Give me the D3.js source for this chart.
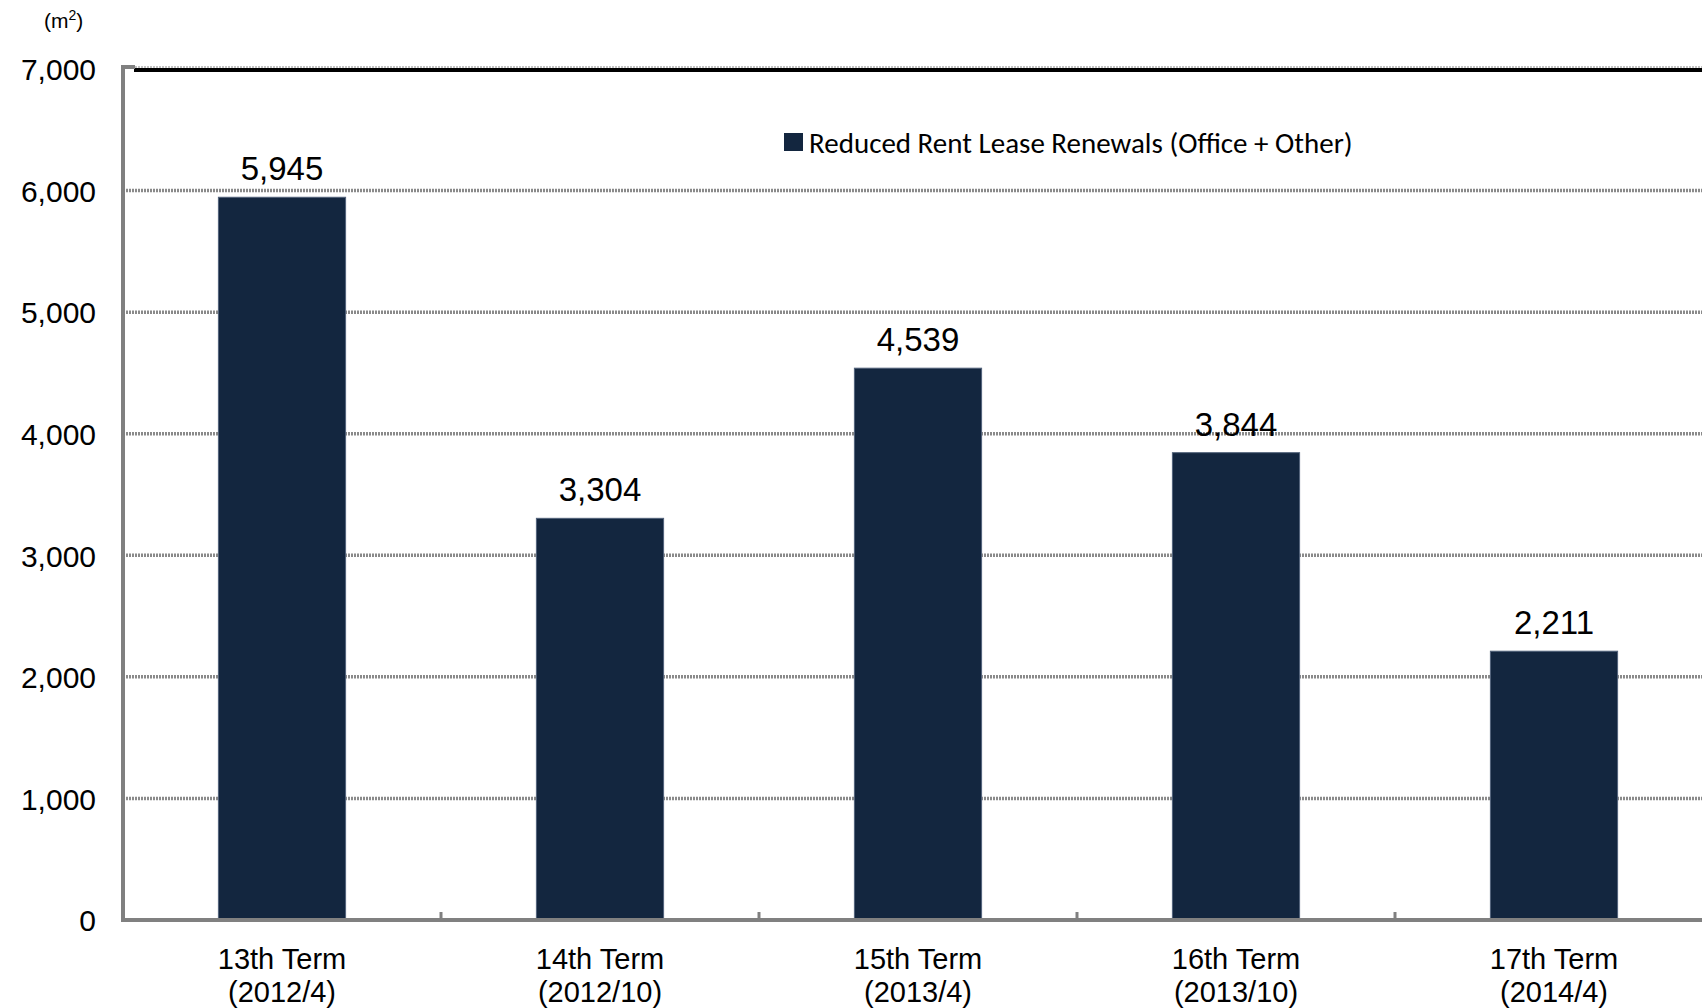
<!DOCTYPE html>
<html>
<head>
<meta charset="utf-8">
<script src="https://cdn.jsdelivr.net/npm/d3@7"></script>
<style>
body { margin: 0; background: #fff; }
text { font-family: "Liberation Sans", Arial, sans-serif; fill: #000; }
</style>
</head>
<body>
<div class="container"></div>
<script>
// chart data
var terms = ["13th Term", "14th Term", "15th Term", "16th Term", "17th Term"];
var periods = ["(2012/4)", "(2012/10)", "(2013/4)", "(2013/10)", "(2014/4)"];
var areas = [5945, 3304, 4539, 3844, 2211];
var yTicks = [0, 1000, 2000, 3000, 4000, 5000, 6000, 7000];
var seriesName = "Reduced Rent Lease Renewals (Office + Other)";

var W = 1702, H = 1008;
var plotLeft = 123, plotTop = 69, plotBottom = 920;

var svg = d3.select(".container").append("svg")
	.attr("width", W)
	.attr("height", H);

var x = d3.scaleBand()
	.domain(terms)
	.range([plotLeft, plotLeft + 318 * 5])
	.paddingInner(0.6)
	.paddingOuter(0.3);

var y = d3.scaleLinear()
	.domain([0, 7000])
	.range([plotBottom, plotTop]);

// gridlines
svg.append("g").selectAll("line")
	.data(yTicks.filter(function(d) { return d > 0; }))
	.enter().append("line")
	.attr("x1", plotLeft).attr("x2", W)
	.attr("y1", function(d) { return d == 7000 ? y(d) - 2 : y(d); })
	.attr("y2", function(d) { return d == 7000 ? y(d) - 2 : y(d); })
	.style("stroke", function(d) { return d == 7000 ? "#b0b0b0" : "#8a8a8a"; })
	.style("stroke-width", function(d) { return d == 7000 ? 1.5 : 3.5; })
	.style("stroke-dasharray", "2,1");

// plot top border
svg.append("line")
	.attr("x1", plotLeft + 11).attr("x2", W)
	.attr("y1", y(7000) + 1).attr("y2", y(7000) + 1)
	.style("stroke", "#000")
	.style("stroke-width", 4);

// bars
svg.append("g").selectAll("rect")
	.data(areas)
	.enter().append("rect")
	.attr("x", function(d, i) { return x(terms[i]); })
	.attr("y", function(d) { return y(d); })
	.attr("width", x.bandwidth())
	.attr("height", function(d) { return y(0) - y(d); })
	.style("fill", "#13263f")
	.style("stroke", "#52627a")
	.style("stroke-width", 1);

// value labels
svg.append("g").selectAll("text")
	.data(areas)
	.enter().append("text")
	.attr("x", function(d, i) { return x(terms[i]) + x.bandwidth() / 2; })
	.attr("y", function(d) { return y(d) - 17; })
	.attr("text-anchor", "middle")
	.style("font-size", "33px")
	.text(function(d) { return d3.format(",")(d); });

// y axis
var yAxis = svg.append("g")
	.attr("transform", "translate(" + plotLeft + ",0)")
	.call(d3.axisLeft(y).tickValues(yTicks).tickFormat(d3.format(",")).tickSize(0).tickPadding(27));
yAxis.select(".domain").style("stroke", "#808080").style("stroke-width", 4)
	.attr("d", "M0," + (plotBottom + 2) + "V" + (plotTop - 2) + "H12");
yAxis.selectAll("text").style("font-size", "30px").attr("dy", "0.36em")
	.style("font-family", "Liberation Sans, Arial, sans-serif");

// x axis
var xAxis = svg.append("g")
	.attr("transform", "translate(0," + plotBottom + ")")
	.call(d3.axisBottom(x).tickSize(0).tickFormat(""));
xAxis.select(".domain").style("stroke", "#808080").style("stroke-width", 4)
	.attr("d", "M" + (plotLeft - 2) + ",0H" + W);

// category boundary ticks
svg.append("g").selectAll("line")
	.data(terms.slice(1))
	.enter().append("line")
	.attr("x1", function(d) { return x(d) - x.step() * x.paddingInner() / 2; })
	.attr("x2", function(d) { return x(d) - x.step() * x.paddingInner() / 2; })
	.attr("y1", plotBottom - 8).attr("y2", plotBottom)
	.style("stroke", "#808080")
	.style("stroke-width", 3);

// category labels
var cat = svg.append("g").selectAll("text")
	.data(terms)
	.enter().append("text")
	.attr("text-anchor", "middle")
	.style("font-size", "29px")
	.attr("x", function(d) { return x(d) + x.bandwidth() / 2; })
	.attr("y", 969);
cat.append("tspan").text(function(d) { return d; });
cat.append("tspan")
	.attr("x", function(d) { return x(d) + x.bandwidth() / 2; })
	.attr("dy", 33)
	.text(function(d, i) { return periods[i]; });

// unit label
var unit = svg.append("text")
	.attr("x", 44).attr("y", 28)
	.style("font-size", "21px")
	.text("(m");
unit.append("tspan").attr("dy", -8).style("font-size", "14px").text("2");
unit.append("tspan").attr("dy", 8).text(")");

// legend
svg.append("rect")
	.attr("x", 784).attr("y", 133)
	.attr("width", 19).attr("height", 18)
	.style("fill", "#13263f");
svg.append("text")
	.attr("x", 809).attr("y", 153)
	.style("font-family", "Carlito, 'Open Sans', sans-serif")
	.style("font-size", "29px")
	.text(seriesName);
</script>
</body>
</html>
